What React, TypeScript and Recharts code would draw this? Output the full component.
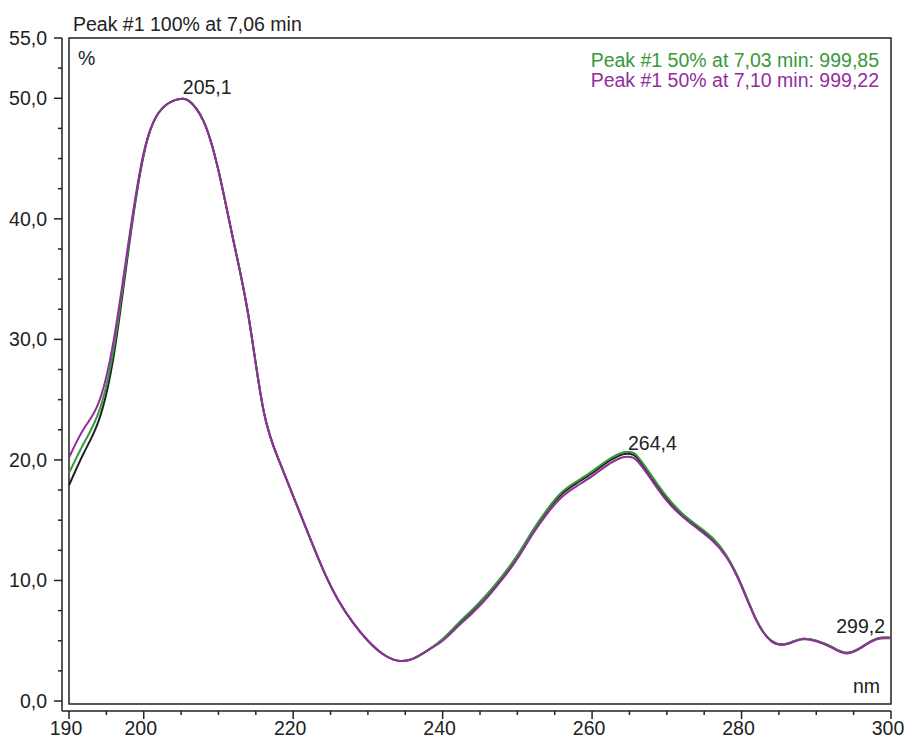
import React from 'react';
import { LineChart, Line, XAxis, YAxis, ReferenceArea, ReferenceDot } from 'recharts';

// UV spectra of peak #1 (apex + both 50% slices)
const wavelengths = [
  190, 192, 194, 196, 198, 200, 202, 204, 205, 206, 208, 210, 212, 214, 216, 218, 220, 222, 224, 226,
  228, 230, 232, 234, 236, 238, 240, 242, 244, 246, 248, 250, 252, 254, 256, 258, 260, 262, 264, 265,
  266, 268, 270, 272, 274, 276, 278, 280, 282, 284, 286, 288, 290, 292, 294, 296, 298, 300,
];
const apexSpectrum = [
  17.9, 20.6, 23.3, 28.7, 37.6, 45.3, 48.8, 49.8, 49.95, 49.8, 48.1, 44.0, 38.2, 32.0, 24.2, 20.1, 17.0, 13.9, 10.9, 8.4,
  6.5, 5.0, 3.9, 3.35, 3.5, 4.2, 5.1, 6.3, 7.5, 8.8, 10.3, 12.0, 14.0, 15.8, 17.2, 18.1, 18.9, 19.8, 20.45, 20.5,
  20.2, 18.5, 16.8, 15.5, 14.5, 13.5, 12.0, 9.6, 6.7, 5.0, 4.75, 5.15, 5.0, 4.5, 4.0, 4.45, 5.15, 5.25,
];
const upSpectrum = [
  18.9, 21.4, 24.0, 29.3, 37.9, 45.4, 48.8, 49.8, 49.95, 49.8, 48.1, 44.0, 38.2, 32.0, 24.2, 20.1, 17.0, 13.9, 10.9, 8.4,
  6.5, 5.0, 3.9, 3.35, 3.5, 4.2, 5.15, 6.4, 7.6, 8.9, 10.4, 12.1, 14.1, 15.9, 17.35, 18.25, 19.05, 19.95, 20.6, 20.65,
  20.35, 18.65, 16.95, 15.6, 14.6, 13.6, 12.05, 9.6, 6.7, 5.0, 4.75, 5.15, 5.0, 4.5, 4.0, 4.45, 5.15, 5.25,
];
const downSpectrum = [
  20.2, 22.6, 24.8, 30.0, 38.2, 45.5, 48.8, 49.8, 49.95, 49.8, 48.1, 44.0, 38.2, 32.0, 24.2, 20.1, 17.0, 13.9, 10.9, 8.4,
  6.5, 5.0, 3.9, 3.35, 3.5, 4.2, 5.0, 6.15, 7.3, 8.6, 10.1, 11.8, 13.8, 15.55, 16.95, 17.85, 18.65, 19.55, 20.2, 20.25,
  19.95, 18.3, 16.6, 15.35, 14.35, 13.35, 11.9, 9.5, 6.65, 4.95, 4.7, 5.1, 4.95, 4.45, 3.95, 4.4, 5.1, 5.2,
];

const xTicks = [190, 195, 200, 205, 210, 215, 220, 225, 230, 235, 240, 245, 250, 255, 260, 265, 270, 275, 280, 285, 290, 295, 300];
const xLabelled = [190, 200, 220, 240, 260, 280, 300];
const yTicks = [0, 2.5, 5, 7.5, 10, 12.5, 15, 17.5, 20, 22.5, 25, 27.5, 30, 32.5, 35, 37.5, 40, 42.5, 45, 47.5, 50, 52.5, 55];
const yLabelled = [0, 10, 20, 30, 40, 50, 55];

const peakNm = [205.1, 264.4, 299.2];
const peakValue = [49.95, 20.6, 5.2];
const peakText = ['205,1', '264,4', '299,2'];

const title = 'Peak #1 100% at 7,06 min';
const legendLines = ['Peak #1 50% at 7,03 min: 999,85', 'Peak #1 50% at 7,10 min: 999,22'];

const INK = '#222';
const GREEN = '#37993a';
const MAGENTA = '#932d9e';
const FONT = '"Liberation Sans", Arial, sans-serif';
const FS = 19.5;

const data = wavelengths.map((nm, i) => ({
  nm,
  apex: apexSpectrum[i],
  up: upSpectrum[i],
  down: downSpectrum[i],
}));

const XTick = ({ x, y, payload }: any) => {
  const major = xLabelled.includes(payload.value);
  return (
    <g>
      <line x1={x} x2={x} y1={y} y2={y + (major ? 8 : 4)} stroke={INK} strokeWidth={1.5} />
      {major && (
        <text x={x - 3} y={y + 24} textAnchor="middle" fill={INK} fontSize={FS} fontFamily={FONT}>
          {payload.value}
        </text>
      )}
    </g>
  );
};

const YTick = ({ x, y, payload }: any) => {
  const major = yLabelled.includes(payload.value);
  return (
    <g>
      <line x1={x - (major ? 8 : 4)} x2={x} y1={y} y2={y} stroke={INK} strokeWidth={1.5} />
      {major && (
        <text x={x - 15} y={y} dy="0.36em" textAnchor="end" fill={INK} fontSize={FS} fontFamily={FONT}>
          {payload.value.toFixed(1).replace('.', ',')}
        </text>
      )}
    </g>
  );
};

const peakLabel = (text: string, i: number) => (p: any) => {
  const vb = p.viewBox || {};
  const last = i === peakNm.length - 1;
  const dx = last ? 0 : i === 0 ? 1 : 3;
  const dy = i === 1 ? -3 : -5;
  return (
    <text
      x={vb.x + dx}
      y={vb.y + dy}
      textAnchor={last ? 'end' : 'start'}
      fill={INK}
      fontSize={FS}
      fontFamily={FONT}
    >
      {text}
    </text>
  );
};

export default function App() {
  return (
    <div style={{ position: 'absolute', left: 0, top: 0, width: 907, height: 738, background: '#fff', fontFamily: FONT }}>
      <LineChart width={907} height={738} data={data} margin={{ top: 38, right: 16, bottom: 0, left: 0 }}>
        <XAxis
          dataKey="nm"
          type="number"
          domain={[190, 300]}
          ticks={xTicks}
          interval={0}
          padding={{ left: 7, right: 0 }}
          height={27}
          tickSize={0}
          tickMargin={0}
          tickLine={false}
          axisLine={{ stroke: INK, strokeWidth: 1.5 }}
          tick={<XTick />}
        />
        <YAxis
          type="number"
          domain={[0, 55]}
          ticks={yTicks}
          interval={0}
          padding={{ top: 0, bottom: 10 }}
          width={62}
          tickSize={0}
          tickMargin={0}
          tickLine={false}
          axisLine={{ stroke: INK, strokeWidth: 1.5 }}
          tick={<YTick />}
        />
        <ReferenceArea
          x1={190}
          x2={300}
          y1={-0.25}
          y2={55}
          ifOverflow="visible"
          fill="none"
          fillOpacity={0}
          stroke={INK}
          strokeWidth={1.5}
        />
        <Line dataKey="apex" type="natural" stroke={INK} strokeWidth={2} dot={false} isAnimationActive={false} />
        <Line dataKey="up" type="natural" stroke={GREEN} strokeWidth={2} dot={false} isAnimationActive={false} />
        <Line dataKey="down" type="natural" stroke={MAGENTA} strokeWidth={2} dot={false} isAnimationActive={false} />
        {peakNm.map((nm, i) => (
          <ReferenceDot
            key={nm}
            x={nm}
            y={peakValue[i]}
            r={0}
            fill="none"
            stroke="none"
            ifOverflow="visible"
            label={{ content: peakLabel(peakText[i], i) }}
          />
        ))}
      </LineChart>
      <svg width={907} height={738} style={{ position: 'absolute', left: 0, top: 0, pointerEvents: 'none' }}>
        <text x={73} y={31} fill={INK} fontSize={FS} fontFamily={FONT}>{title}</text>
        <text x={78} y={65} fill={INK} fontSize={FS} fontFamily={FONT}>%</text>
        <text x={879} y={67} textAnchor="end" fill={GREEN} fontSize={FS} fontFamily={FONT}>{legendLines[0]}</text>
        <text x={879} y={87} textAnchor="end" fill={MAGENTA} fontSize={FS} fontFamily={FONT}>{legendLines[1]}</text>
        <text x={880} y={693} textAnchor="end" fill={INK} fontSize={FS} fontFamily={FONT}>nm</text>
      </svg>
    </div>
  );
}
